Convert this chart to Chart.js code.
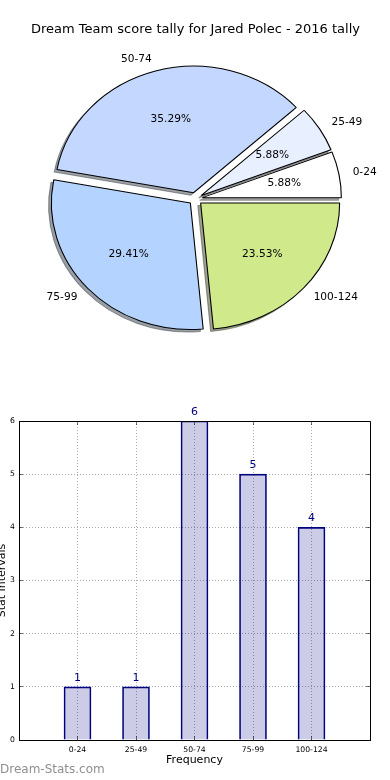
<!DOCTYPE html>
<html><head><meta charset="utf-8">
<script src="https://cdn.jsdelivr.net/npm/chart.js@4.4.0/dist/chart.umd.min.js"></script>
<style>
html,body{margin:0;padding:0;background:#fff;}
#wrap{position:relative;width:390px;height:780px;overflow:hidden;background:#fff;}
.box{position:absolute;left:0;width:390px;height:390px;}
canvas{display:block;}
</style></head><body>
<div id="wrap">
<div class="box" style="top:0"><canvas id="pie" width="390" height="390"></canvas></div>
<div class="box" style="top:390px"><canvas id="bar" width="390" height="390"></canvas></div>
</div>
<script>
// ---- data ----
const categories = ['0-24', '25-49', '50-74', '75-99', '100-124'];
const frequencies = [1, 1, 6, 5, 4];
const yTickMax = 6;
const pieTitle = 'Dream Team score tally for Jared Polec - 2016 tally';
const xAxisTitle = 'Frequency';
const yAxisTitle = 'Stat Intervals';
const watermark = 'Dream-Stats.com';

// ---- style ----
const FONT = "'DejaVu Sans', 'Liberation Sans', sans-serif";
const sliceColors = ['#FFFFFF', '#E8F0FF', '#C4D8FF', '#B4D4FF', '#D0EA8B'];
const RX = 139, RY = 126.5;         // elliptical pie (matplotlib without equal aspect)
const SX = RX / RY;
const EXPLODE = 0.05;               // fraction of radius
const SHADOW_DX = -2.8, SHADOW_DY = 2.5;

function shadowOf(hex) {
  const n = parseInt(hex.slice(1), 16);
  const r = (n >> 16) & 255, g = (n >> 8) & 255, b = n & 255;
  return `rgba(${Math.round(r * 0.3)},${Math.round(g * 0.3)},${Math.round(b * 0.3)},0.5)`;
}

// Chart.js draws clockwise; matplotlib counter-clockwise from 3 o'clock -> reverse order
const pieOrder = categories.map((_, i) => i).reverse();

const pieDraw = {
  id: 'pieDraw',
  beforeDatasetDraw(chart, args) {
    const ctx = chart.ctx;
    const els = args.meta.data;
    const cx = els[0].x, cy = els[0].y;
    ctx.save();
    ctx.translate(cx, cy); ctx.scale(SX, 1); ctx.translate(-cx, -cy);
    for (let k = els.length - 1; k >= 0; k--) {
      const el = els[k];
      const o = el.options;
      const mid = (el.startAngle + el.endAngle) / 2;
      const e = EXPLODE * el.outerRadius;
      const ex = Math.cos(mid) * e, ey = Math.sin(mid) * e;
      const sc = shadowOf(o.backgroundColor);
      el.options = Object.assign({}, o, { backgroundColor: sc, borderColor: sc });
      ctx.save(); ctx.translate(ex + SHADOW_DX / SX, ey + SHADOW_DY); el.draw(ctx); ctx.restore();
      el.options = o;
      ctx.save(); ctx.translate(ex, ey); el.draw(ctx); ctx.restore();
    }
    ctx.restore();
    return false;
  }
};

const pieLabels = {
  id: 'pieLabels',
  afterDatasetsDraw(chart) {
    const ctx = chart.ctx;
    const meta = chart.getDatasetMeta(0);
    const data = chart.data.datasets[0].data;
    const total = data.reduce((a, b) => a + b, 0);
    ctx.save();
    ctx.font = `10.6px ${FONT}`;
    ctx.fillStyle = '#000';
    ctx.textBaseline = 'middle';
    meta.data.forEach((el, i) => {
      const mid = (el.startAngle + el.endAngle) / 2;
      const c = Math.cos(mid), s = Math.sin(mid);
      const r = el.outerRadius;
      const ox = el.x + SX * EXPLODE * r * c, oy = el.y + EXPLODE * r * s;
      ctx.textAlign = 'center';
      ctx.fillText((data[i] / total * 100).toFixed(2) + '%', ox + SX * 0.6 * r * c, oy + 0.6 * r * s);
      ctx.textAlign = c > 0 ? 'left' : 'right';
      ctx.fillText(chart.data.labels[i], ox + SX * 1.1 * r * c, oy + 1.1 * r * s);
    });
    ctx.restore();
  }
};

new Chart(document.getElementById('pie'), {
  type: 'pie',
  data: {
    labels: pieOrder.map(i => categories[i]),
    datasets: [{
      data: pieOrder.map(i => frequencies[i]),
      backgroundColor: pieOrder.map(i => sliceColors[i]),
      borderColor: '#000',
      borderWidth: 1
    }]
  },
  options: {
    responsive: false, devicePixelRatio: 1, animation: false, events: [],
    rotation: 90, radius: RY,
    layout: { padding: { left: 1, right: 0, top: 0, bottom: 30 } },
    plugins: {
      legend: { display: false }, tooltip: { enabled: false },
      title: { display: true, text: pieTitle, color: '#000',
        font: { family: FONT, size: 13, weight: 'normal' }, padding: { top: 22, bottom: 0 } }
    }
  },
  plugins: [pieDraw, pieLabels]
});

// ---- bar chart ----
const xLabels = [''].concat(categories, ['']);
const barValues = [null].concat(frequencies, [null]);

function aligned(p) { return Math.round(p - 0.5) + 0.5; }

const barExtras = {
  id: 'barExtras',
  afterDatasetsDraw(chart) {
    const ctx = chart.ctx;
    const { left, right, top, bottom } = chart.chartArea;
    const xs = chart.scales.x, ys = chart.scales.y;
    ctx.save();
    // top/right spines
    ctx.strokeStyle = '#000'; ctx.lineWidth = 1;
    ctx.beginPath();
    ctx.moveTo(aligned(left), aligned(top)); ctx.lineTo(aligned(right), aligned(top));
    ctx.lineTo(aligned(right), aligned(bottom));
    ctx.stroke();
    // inward tick marks
    ctx.strokeStyle = 'rgba(0,0,0,0.55)';
    ctx.beginPath();
    ys.ticks.forEach(t => {
      const y = aligned(ys.getPixelForValue(t.value));
      ctx.moveTo(left, y); ctx.lineTo(left + 4, y);
      ctx.moveTo(right, y); ctx.lineTo(right - 4, y);
    });
    categories.forEach(c => {
      const x = aligned(xs.getPixelForValue(xLabels.indexOf(c)));
      ctx.moveTo(x, bottom); ctx.lineTo(x, bottom - 4);
      ctx.moveTo(x, top); ctx.lineTo(x, top + 4);
    });
    ctx.stroke();
    // value labels
    const meta = chart.getDatasetMeta(0);
    ctx.fillStyle = '#000080';
    ctx.font = `11px ${FONT}`;
    ctx.textAlign = 'center'; ctx.textBaseline = 'middle';
    meta.data.forEach((el, i) => {
      const v = barValues[i];
      if (v === null) return;
      ctx.fillText(String(v), el.x, el.y - 9);
    });
    // watermark
    ctx.fillStyle = '#8f8f8f';
    ctx.font = `12px ${FONT}`;
    ctx.textAlign = 'left';
    ctx.fillText(watermark, 0, 380);
    ctx.restore();
  }
};

const gridStyle = { color: '#aaa', lineWidth: 1, drawTicks: false, offset: false };
const borderStyle = { color: '#000', width: 1, dash: [1, 2] };

new Chart(document.getElementById('bar'), {
  type: 'bar',
  data: {
    labels: xLabels,
    datasets: [{
      data: barValues,
      backgroundColor: 'rgba(0,0,128,0.2)',
      borderColor: '#000080',
      borderWidth: 1,
      barThickness: 27
    }]
  },
  options: {
    responsive: false, devicePixelRatio: 1, animation: false, events: [],
    layout: { padding: { left: 0, right: 20, top: 31, bottom: 0 } },
    plugins: { legend: { display: false }, tooltip: { enabled: false } },
    scales: {
      x: {
        offset: false,
        grid: gridStyle,
        border: borderStyle,
        ticks: { padding: 5, color: '#000', font: { family: FONT, size: 7.7 }, maxRotation: 0, autoSkip: false },
        title: { display: true, text: xAxisTitle, color: '#000', font: { family: FONT, size: 11 }, padding: { top: 0, bottom: 13 } },
        afterFit(s) { s.height = 40; }
      },
      y: {
        min: 0, max: yTickMax,
        grid: gridStyle,
        border: borderStyle,
        ticks: { stepSize: 1, padding: 4, color: '#000', font: { family: FONT, size: 7.7 } },
        title: { display: true, text: yAxisTitle, color: '#000', font: { family: FONT, size: 11 }, padding: { top: -4.2, bottom: 0 } },
        afterFit(s) { s.width = 19; }
      }
    }
  },
  plugins: [barExtras]
});
</script>
</body></html>
